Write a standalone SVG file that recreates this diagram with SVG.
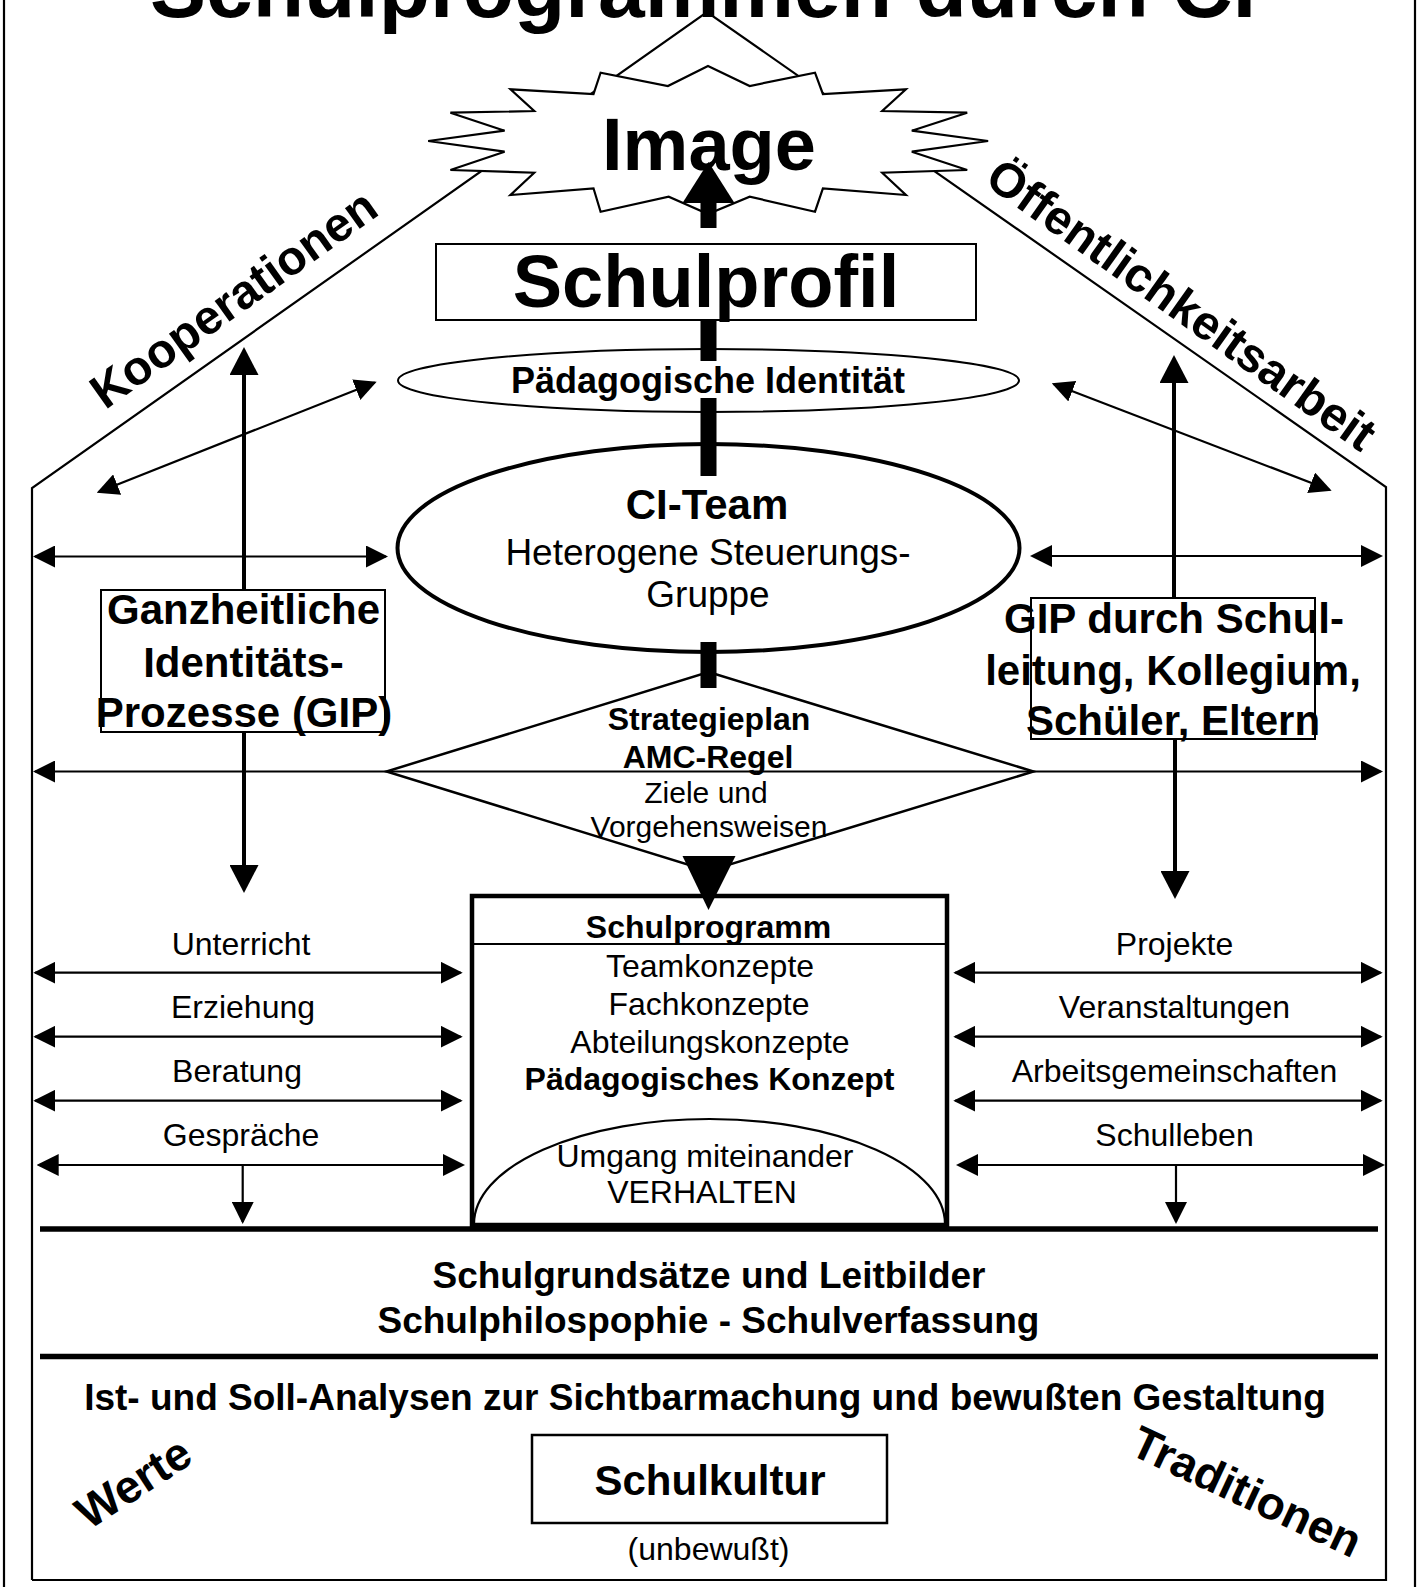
<svg xmlns="http://www.w3.org/2000/svg" width="1421" height="1587" viewBox="0 0 1421 1587">
<style>
.b{font-family:"Liberation Sans",Arial,sans-serif;font-weight:bold;text-anchor:middle;fill:#000}
.r{font-family:"Liberation Sans",Arial,sans-serif;font-weight:normal;text-anchor:middle;fill:#000}
.ln{stroke:#000;stroke-width:2.2;fill:none}
.th{stroke:#000;stroke-width:4;fill:none}
.thick{stroke:#000;stroke-width:5.5;fill:none}
</style>
<defs>
<marker id="ah" viewBox="0 0 22 22" refX="20" refY="11" markerWidth="22" markerHeight="22" markerUnits="userSpaceOnUse" orient="auto-start-reverse"><path d="M0,0 L22,11 L0,22 z" fill="#000"/></marker>
<marker id="ahb" viewBox="0 0 28 29" refX="24" refY="14.5" markerWidth="28" markerHeight="29" markerUnits="userSpaceOnUse" orient="auto-start-reverse"><path d="M0,0 L28,14.5 L0,29 z" fill="#000"/></marker>
</defs>
<rect x="0" y="0" width="1421" height="1587" fill="#fff"/>

<g id="frame">
<line x1="4" y1="0" x2="4" y2="1587" class="ln"/>
<line x1="1415" y1="0" x2="1415" y2="1587" class="ln"/>
<polyline points="32,1580 32,488 707,12 1386,487 1386,1580 32,1580" class="ln"/>
</g>

<g id="title"><text x="703" y="17" class="b" font-size="84">Schulprogrammen durch CI</text></g>

<g id="roof-labels">
<text class="b" font-size="48" transform="translate(243,312) rotate(-35.5)">Kooperationen</text>
<text class="b" font-size="48" transform="translate(1172,318) rotate(35.5)">Öffentlichkeitsarbeit</text>
</g>

<g id="image">
<polygon points="708,66 749.7,86 815,72.7 822.9,94 905.9,89.3 882.2,111 967.2,112.7 911.8,130.7 988.1,141 911.8,151.7 967.2,170 882.2,172.7 905.9,195 822.9,188.3 815,211.7 749.7,196.7 708,214 668.7,196.7 600.6,211.7 593.5,188.3 510.5,195 534.2,172.7 450.4,170 504.6,151.7 428.2,141 504.6,130.7 450.4,112.7 534.2,111 510.5,89.3 593.5,94 600.6,72.7 667.9,86" fill="#fff" stroke="#000" stroke-width="2.2"/>
<text x="709" y="170" class="b" font-size="74">Image</text>
</g>

<g id="schulprofil">
<rect x="436" y="244" width="540" height="76" fill="#fff" stroke="#000" stroke-width="2"/>
<text x="706" y="307" class="b" font-size="74">Schulprofil</text>
</g>

<g id="paed-identitaet">
<ellipse cx="708.5" cy="380.5" rx="310.5" ry="31.5" fill="#fff" stroke="#000" stroke-width="2"/>
<text x="708" y="393" class="b" font-size="36">Pädagogische Identität</text>
</g>

<g id="ci-team">
<ellipse cx="708.5" cy="548" rx="311" ry="104" fill="#fff" stroke="#000" stroke-width="4"/>
<text x="707" y="519" class="b" font-size="42">CI-Team</text>
<text x="708" y="565" class="r" font-size="37">Heterogene Steuerungs-</text>
<text x="708" y="607" class="r" font-size="37">Gruppe</text>
</g>

<g id="strategieplan">
<polygon points="708.5,672 1033.5,771.5 708.5,871 386.5,771.5" fill="#fff" stroke="#000" stroke-width="2.5"/>
<text x="709" y="730" class="b" font-size="32">Strategieplan</text>
<text x="708" y="768" class="b" font-size="32">AMC-Regel</text>
<text x="706" y="803" class="r" font-size="30">Ziele und</text>
<text x="709" y="837" class="r" font-size="30">Vorgehensweisen</text>
</g>

<g id="gip-left">
<rect x="101" y="590" width="284" height="142" fill="none" stroke="#000" stroke-width="2"/>
<text x="243.5" y="624" class="b" font-size="42">Ganzheitliche</text>
<text x="243.5" y="677" class="b" font-size="42">Identitäts-</text>
<text x="244" y="727" class="b" font-size="42">Prozesse (GIP)</text>
</g>

<g id="gip-right">
<rect x="1031" y="598" width="284" height="141" fill="none" stroke="#000" stroke-width="2"/>
<text x="1174" y="633" class="b" font-size="42">GIP durch Schul-</text>
<text x="1173" y="685" class="b" font-size="42">leitung, Kollegium,</text>
<text x="1173" y="735" class="b" font-size="42">Schüler, Eltern</text>
</g>

<g id="schulprogramm">
<rect x="472" y="896" width="475" height="329" fill="none" stroke="#000" stroke-width="4.5"/>
<line x1="472" y1="944" x2="947" y2="944" class="ln"/>
<text x="708.5" y="938" class="b" font-size="32">Schulprogramm</text>
<text x="710" y="977" class="r" font-size="32">Teamkonzepte</text>
<text x="709" y="1015" class="r" font-size="32">Fachkonzepte</text>
<text x="710" y="1053" class="r" font-size="32">Abteilungskonzepte</text>
<text x="709.5" y="1090" class="b" font-size="32">Pädagogisches Konzept</text>
<path d="M474,1224 A235.5,105 0 0 1 945,1224" class="ln"/>
<text x="705" y="1167" class="r" font-size="32">Umgang miteinander</text>
<text x="702" y="1203" class="r" font-size="32">VERHALTEN</text>
</g>

<g id="labels-left">
<text x="241" y="955" class="r" font-size="32">Unterricht</text>
<text x="243" y="1018" class="r" font-size="32">Erziehung</text>
<text x="237" y="1082" class="r" font-size="32">Beratung</text>
<text x="241" y="1146" class="r" font-size="32">Gespräche</text>
</g>

<g id="labels-right">
<text x="1174.5" y="955" class="r" font-size="32">Projekte</text>
<text x="1174.5" y="1018" class="r" font-size="32">Veranstaltungen</text>
<text x="1174.5" y="1082" class="r" font-size="32">Arbeitsgemeinschaften</text>
<text x="1174.5" y="1146" class="r" font-size="32">Schulleben</text>
</g>

<g id="connectors">
<rect x="700.5" y="203" width="16" height="25" fill="#000"/>
<polygon points="708.5,162 734.5,203 682.5,203" fill="#000"/>
<rect x="700.5" y="320" width="16" height="41" fill="#000"/>
<rect x="700.5" y="398" width="16" height="78" fill="#000"/>
<rect x="700.5" y="642" width="16" height="46" fill="#000"/>
<polygon points="682.5,856 735.5,856 708.5,910" fill="#000"/>
<line x1="35" y1="556.5" x2="386" y2="556.5" class="ln" marker-start="url(#ah)" marker-end="url(#ah)"/>
<line x1="1032" y1="556" x2="1381" y2="556" class="ln" marker-start="url(#ah)" marker-end="url(#ah)"/>
<line x1="35" y1="771.5" x2="1381" y2="771.5" class="ln" marker-start="url(#ah)" marker-end="url(#ah)"/>
<line x1="35.3" y1="972.7" x2="460.7" y2="972.7" class="ln" marker-start="url(#ah)" marker-end="url(#ah)"/>
<line x1="35.3" y1="1036.7" x2="460.7" y2="1036.7" class="ln" marker-start="url(#ah)" marker-end="url(#ah)"/>
<line x1="35.3" y1="1100.7" x2="460.7" y2="1100.7" class="ln" marker-start="url(#ah)" marker-end="url(#ah)"/>
<line x1="38.7" y1="1165" x2="463" y2="1165" class="ln" marker-start="url(#ah)" marker-end="url(#ah)"/>
<line x1="955.3" y1="972.7" x2="1380.7" y2="972.7" class="ln" marker-start="url(#ah)" marker-end="url(#ah)"/>
<line x1="955.3" y1="1036.7" x2="1380.7" y2="1036.7" class="ln" marker-start="url(#ah)" marker-end="url(#ah)"/>
<line x1="955.3" y1="1100.7" x2="1380.7" y2="1100.7" class="ln" marker-start="url(#ah)" marker-end="url(#ah)"/>
<line x1="958" y1="1165" x2="1383" y2="1165" class="ln" marker-start="url(#ah)" marker-end="url(#ah)"/>
<line x1="242.7" y1="1165" x2="242.7" y2="1222" class="ln" marker-end="url(#ah)"/>
<line x1="1176" y1="1165" x2="1176" y2="1222" class="ln" marker-end="url(#ah)"/>
<line x1="98.6" y1="492" x2="374.8" y2="382.4" class="ln" marker-start="url(#ah)" marker-end="url(#ah)"/>
<line x1="1053.6" y1="384" x2="1329.8" y2="490" class="ln" marker-start="url(#ah)" marker-end="url(#ah)"/>
<line x1="244" y1="590" x2="244" y2="351" class="th" marker-end="url(#ahb)"/>
<line x1="244" y1="732" x2="244" y2="889" class="th" marker-end="url(#ahb)"/>
<line x1="1174" y1="598" x2="1174" y2="359" class="th" marker-end="url(#ahb)"/>
<line x1="1175" y1="739" x2="1175" y2="895" class="th" marker-end="url(#ahb)"/>
<line x1="40" y1="1229" x2="1378" y2="1229" class="thick"/>
<line x1="40" y1="1356.5" x2="1378" y2="1356.5" class="thick"/>
</g>

<g id="grundsaetze">
<text x="709" y="1288" class="b" font-size="37">Schulgrundsätze und Leitbilder</text>
<text x="708.5" y="1333" class="b" font-size="37">Schulphilospophie - Schulverfassung</text>
</g>

<g id="analysen">
<text x="705" y="1410" class="b" font-size="37">Ist- und Soll-Analysen zur Sichtbarmachung und bewußten Gestaltung</text>
</g>

<g id="schulkultur">
<rect x="532" y="1435" width="355" height="88" fill="none" stroke="#000" stroke-width="2.5"/>
<text x="710" y="1495" class="b" font-size="42">Schulkultur</text>
<text x="708.5" y="1560" class="r" font-size="32">(unbewußt)</text>
</g>

<g id="werte-traditionen">
<text class="b" font-size="46" transform="translate(142,1496) rotate(-33)">Werte</text>
<text class="b" font-size="46" transform="translate(1240,1506) rotate(25)">Traditionen</text>
</g>
</svg>
